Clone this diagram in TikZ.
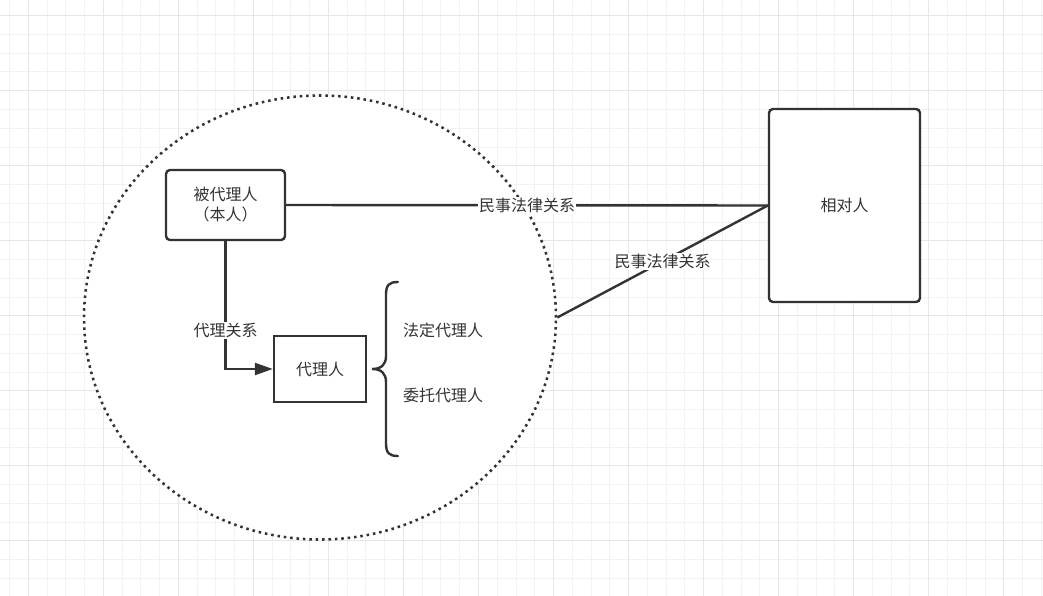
\documentclass[tikz,border=0pt]{standalone}
\usepackage{fontspec}
\setmainfont{Noto Sans CJK SC}
\usetikzlibrary{arrows.meta,shapes.geometric}
\definecolor{ink}{HTML}{333333}
\definecolor{txt}{HTML}{333333}
\definecolor{gridminor}{HTML}{F2F2F2}
\definecolor{gridmajor}{HTML}{E6E6E6}
\tikzset{
  box/.style={draw=ink, line width=1.8pt, fill=white, text=txt, font=\fontsize{12pt}{15pt}\selectfont, align=center, inner sep=0pt},
  conn/.style={draw=ink, line width=1.8pt},
  lbl/.style={fill=white, text=txt, font=\fontsize{12pt}{15pt}\selectfont, inner sep=1pt},
  plain/.style={text=txt, font=\fontsize{12pt}{15pt}\selectfont, inner sep=0pt},
}
\begin{document}
\begin{tikzpicture}[x=0.75pt,y=-0.75pt]
\useasboundingbox (0,0) rectangle (1043,596);
\fill[white] (0,0) rectangle (1043,596);
% grid
\foreach \i in {0,...,55} \draw[gridminor, line width=0.75pt] (9.5+\i*18.76,0) -- (9.5+\i*18.76,596);
\foreach \i in {0,...,31} \draw[gridminor, line width=0.75pt] (0,15.7+\i*18.76) -- (1043,15.7+\i*18.76);
\foreach \i in {0,...,13} \draw[gridmajor, line width=0.75pt] (28.3+\i*75.04,0) -- (28.3+\i*75.04,596);
\foreach \i in {0,...,7} \draw[gridmajor, line width=0.75pt] (0,15.7+\i*75.04) -- (1043,15.7+\i*75.04);

% dotted ellipse
\node[ellipse, draw=ink, fill=white, line width=1.9pt, dash pattern=on 1.9pt off 2.9pt, minimum width=354pt, minimum height=333pt, inner sep=0pt] (circ) at (320,317.5) {};

% nodes
\node[box, rounded corners=3pt, minimum width=89.25pt, minimum height=52.5pt] (pr) at (225.5,205) {被代理人\\（本人）};
\node[box, minimum width=69pt, minimum height=49.5pt] (ag) at (320,369) {代理人};
\node[box, rounded corners=3pt, minimum width=113.25pt, minimum height=144.75pt] (rel) at (844.5,205.5) {相对人};

% connectors
\draw[conn] (pr.east) -- (rel.west) node[lbl, midway] {民事法律关系};
\draw[conn] (circ.east) -- (rel.west) node[lbl, midway] {民事法律关系};
\draw[conn, -{Triangle[length=13.5pt,width=9pt]}] (pr.south) |- (ag.west) node[lbl, pos=0.35] {代理关系};

% brace
\coordinate (tip) at (372,369);
\draw[conn, line cap=round] (398,282) .. controls (389,282) and (386,285) .. (386,295) -- (386,356) .. controls (386,365) and (381,369) .. (tip) .. controls (381,369) and (386,373) .. (386,382) -- (386,443) .. controls (386,453) and (389,456) .. (398,456);
\node[plain] (fd) at (443,330) {法定代理人};
\node[plain] (wt) at (443,395) {委托代理人};
\end{tikzpicture}
\end{document}
